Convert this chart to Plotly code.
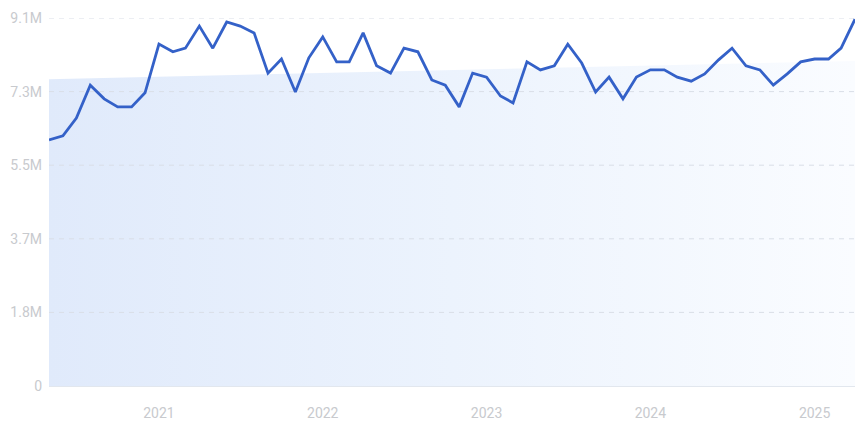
import plotly.graph_objects as go
import pandas as pd

# Monthly values (millions), May 2020 - Apr 2025
months = pd.date_range("2020-05-01", "2025-04-01", freq="MS")
values_m = [
    6.12, 6.22, 6.66, 7.48, 7.14, 6.94, 6.94, 7.29, 8.50, 8.31,
    8.40, 8.95, 8.40, 9.05, 8.95, 8.78, 7.78, 8.13, 7.31, 8.16,
    8.68, 8.06, 8.06, 8.78, 7.96, 7.78, 8.40, 8.31, 7.61, 7.48,
    6.94, 7.78, 7.68, 7.21, 7.04, 8.06, 7.86, 7.96, 8.50, 8.03,
    7.31, 7.68, 7.14, 7.68, 7.86, 7.86, 7.68, 7.58, 7.76, 8.11,
    8.40, 7.96, 7.86, 7.48, 7.76, 8.06, 8.13, 8.13, 8.40, 9.12,
]
values = [v * 1e6 for v in values_m]

# Background trend band (millions)
trend_start_m = 7.63
trend_end_m = 8.08

y_tickvals = [0, 1.83e6, 3.66e6, 5.49e6, 7.32e6, 9.15e6]
y_ticktext = ["0", "1.8M", "3.7M", "5.5M", "7.3M", "9.1M"]
x_tickvals = ["2021-01-01", "2022-01-01", "2023-01-01", "2024-01-01", "2025-01-01"]
x_ticktext = ["2021", "2022", "2023", "2024", "2025"]

fig = go.Figure()

# gradient background band
fig.add_trace(go.Scatter(
    x=[months[0], months[-1], months[-1], months[0], months[0]],
    y=[0, 0, trend_end_m * 1e6, trend_start_m * 1e6, 0],
    fill="toself",
    fillgradient=dict(type="horizontal",
                      colorscale=[[0, "#e0eafb"], [0.5, "#ecf3fd"], [1, "#fafcff"]]),
    line=dict(width=0),
    mode="lines",
    hoverinfo="skip",
    showlegend=False,
))

# dashed grid lines drawn above the band (built from the y tick values)
gx, gy = [], []
for v in y_tickvals[1:]:
    gx += [months[0], months[-1], None]
    gy += [v, v, None]
fig.add_trace(go.Scatter(
    x=gx, y=gy, mode="lines",
    line=dict(color="#d9dee7", width=1, dash="5px,5px"),
    hoverinfo="skip", showlegend=False,
))

fig.add_trace(go.Scatter(
    x=months, y=values,
    mode="lines",
    line=dict(color="#3461c8", width=2.8),
    cliponaxis=False,
    showlegend=False,
))

fig.update_layout(
    width=864, height=433,
    margin=dict(l=49, r=9, t=18, b=47),
    paper_bgcolor="white",
    plot_bgcolor="white",
    font=dict(family="Roboto, sans-serif", color="#c8cace", size=13),
    xaxis=dict(
        range=[months[0], months[-1]],
        tickvals=x_tickvals, ticktext=x_ticktext,
        showgrid=False, zeroline=False,
        showline=True, linecolor="#e2e7ee", linewidth=1,
        ticks="", ticklabelstandoff=14, automargin=False,
        tickfont=dict(size=14, color="#c8cace"),
    ),
    yaxis=dict(
        range=[0, 9.15e6],
        tickvals=y_tickvals, ticktext=y_ticktext,
        showgrid=False, zeroline=False, showline=False, ticks="",
        ticklabelstandoff=6, automargin=False,
        tickfont=dict(size=14, color="#c8cace"),
    ),
)

fig.write_html("out.html",
               config={"displayModeBar": False},
               post_script="document.body.style.margin='0px';document.body.style.overflow='hidden';")
